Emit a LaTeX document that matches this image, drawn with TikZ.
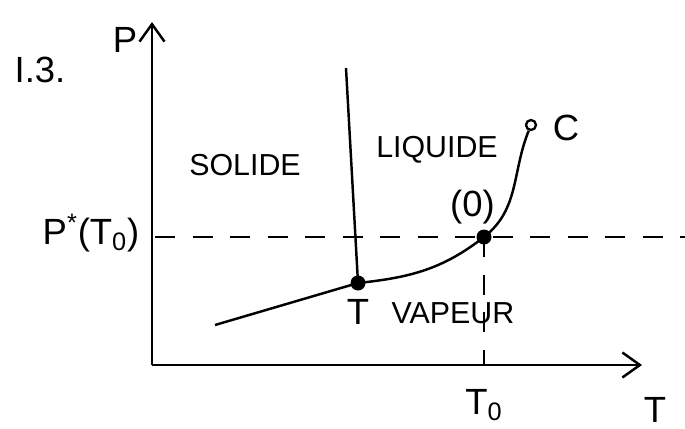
\documentclass[tikz,border=0pt]{standalone}
\usepackage{fontspec}
\setmainfont{Liberation Sans}
\usetikzlibrary{positioning, arrows.meta}

\begin{document}
\begin{tikzpicture}[
        font=\LARGE,
        curve/.style={line width=1.4pt},
        axis/.style={line width=1.4pt, -{Straight Barb[length=3.5mm, width=5mm]}},
        dashline/.style={line width=1.3pt, dash pattern=on 4mm off 3.5mm},
        dot/.style={circle, fill=black, inner sep=0pt, minimum size=3mm},
        opendot/.style={circle, draw, fill=white, line width=1.3pt, inner sep=0pt, minimum size=2mm},
        lab/.style={font=\huge},
    ]
    \useasboundingbox (0,0) rectangle (13.7,8.56);

    % Axes
    \coordinate (origin) at (3.04,1.26);
    \coordinate (ptop) at (3.04,8.12);
    \coordinate (tend) at (12.84,1.26);
    \draw[axis] (origin) -- (ptop);
    \draw[axis] (origin) -- (tend);

    % Points
    \node[dot] (triple) at (7.16,2.90) {};
    \node[dot] (zero) at (9.68,3.82) {};
    \node[opendot] (crit) at (10.62,6.06) {};
    \coordinate (fusion) at (6.92,7.20);
    \coordinate (sublim) at (4.30,2.06);

    % Phase boundaries
    \draw[curve] (sublim) -- (triple.center);
    \draw[curve] (triple.center) -- (fusion);
    \draw[curve] (triple.center) to[out=6, in=-142] (zero.center)
        to[out=38, in=-112] (crit);

    % Dashed guides
    \coordinate (hstart) at (3.10,3.82);
    \coordinate (hend) at (13.7,3.82);
    \coordinate (vfoot) at (9.68,1.26);
    \draw[dashline] (hstart) -- (hend);
    \draw[dashline] (zero.center) -- (vfoot);

    % Labels
    \node[lab] (title) at (0.8,7.16) {I.3.};
    \node[lab] (plab) at (2.5,7.76) {P};
    \node (solide) at (4.9,5.26) {SOLIDE};
    \node (liquide) at (8.74,5.56) {LIQUIDE};
    \node[lab] (clab) at (11.32,6.0) {C};
    \node[lab] (zlab) at (9.45,4.42) {(0)};
    \node[lab, inner sep=1pt] (pstar) at (1.82,3.9) {P\textsuperscript{*}(T\textsubscript{0})};
    \node[lab] (tlab) at (7.16,2.32) {T};
    \node (vapeur) at (9.06,2.3) {VAPEUR};
    \node[lab] (t0lab) at (9.68,0.46) {T\textsubscript{0}};
    \node[lab] (taxis) at (13.1,0.36) {T};
\end{tikzpicture}
\end{document}
